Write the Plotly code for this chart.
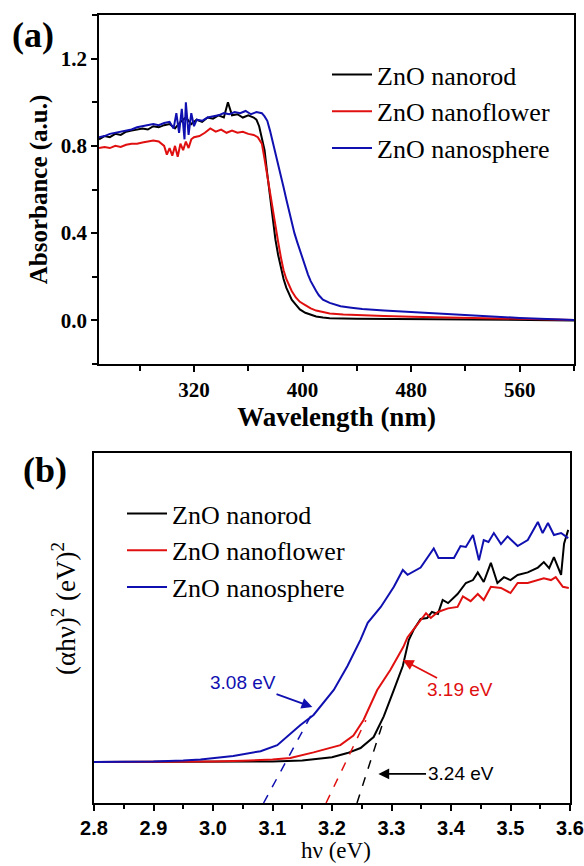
import plotly.graph_objects as go

# ---------------- Panel (a): UV-vis absorbance ----------------
nanorod_wl = [250, 254, 258, 262, 266, 270, 274, 278, 282, 286, 290, 294, 298, 302, 306, 310, 314, 318,
              322, 326, 330, 334, 338, 342, 345, 348, 352, 356, 360, 364, 366, 368, 370, 372, 374, 376,
              378, 380, 382, 384, 386, 388, 390, 392, 395, 398, 402, 406, 410, 415, 420, 440, 460, 480,
              500, 520, 540, 560, 580, 600]
nanorod_abs = [0.83, 0.845, 0.84, 0.855, 0.85, 0.865, 0.87, 0.875, 0.88, 0.875, 0.89, 0.885, 0.895, 0.9,
               0.88, 0.91, 0.93, 0.9, 0.92, 0.91, 0.93, 0.925, 0.94, 0.93, 1.0, 0.94, 0.945, 0.93, 0.94,
               0.93, 0.92, 0.89, 0.84, 0.78, 0.67, 0.56, 0.46, 0.37, 0.30, 0.24, 0.19, 0.15, 0.118, 0.095,
               0.072, 0.05, 0.035, 0.025, 0.018, 0.013, 0.01, 0.008, 0.007, 0.007, 0.006, 0.005, 0.004,
               0.003, 0.002, 0.0]

nanoflower_wl = [250, 254, 258, 262, 266, 270, 274, 278, 282, 286, 290, 294, 298, 300, 302, 304, 306, 308,
                 310, 312, 314, 316, 318, 320, 324, 328, 332, 336, 340, 344, 348, 352, 356, 360, 364, 367,
                 370, 372, 374, 376, 378, 380, 382, 384, 386, 388, 390, 392, 395, 398, 402, 406, 410, 415,
                 420, 430, 440, 460, 480, 500, 520, 540, 560, 580, 600]
nanoflower_abs = [0.79, 0.795, 0.79, 0.80, 0.795, 0.805, 0.81, 0.81, 0.815, 0.82, 0.825, 0.82, 0.80, 0.76,
                  0.79, 0.755, 0.80, 0.75, 0.81, 0.78, 0.82, 0.79, 0.83, 0.84, 0.845, 0.86, 0.88, 0.865,
                  0.875, 0.86, 0.87, 0.86, 0.865, 0.855, 0.85, 0.84, 0.81, 0.74, 0.66, 0.58, 0.51, 0.44,
                  0.36, 0.29, 0.23, 0.19, 0.16, 0.135, 0.105, 0.085, 0.07, 0.055, 0.045, 0.037, 0.032,
                  0.027, 0.024, 0.02, 0.017, 0.014, 0.012, 0.009, 0.006, 0.004, 0.002]

nanosphere_wl = [250, 254, 258, 262, 266, 270, 274, 278, 282, 286, 290, 294, 298, 302, 305, 307, 309, 311,
                 313, 314, 316, 318, 320, 322, 326, 330, 334, 338, 342, 346, 350, 354, 358, 362, 366, 370,
                 372, 374, 376, 378, 380, 382, 384, 386, 388, 390, 392, 394, 396, 398, 400, 402, 404, 406,
                 408, 410, 412, 415, 420, 428, 436, 444, 460, 480, 500, 520, 540, 560, 580, 600]
nanosphere_abs = [0.84, 0.845, 0.855, 0.86, 0.865, 0.87, 0.875, 0.885, 0.89, 0.895, 0.90, 0.895, 0.905,
                  0.91, 0.88, 0.95, 0.86, 0.97, 0.83, 1.0, 0.85, 0.95, 0.89, 0.92, 0.915, 0.93, 0.935,
                  0.94, 0.95, 0.945, 0.955, 0.95, 0.96, 0.945, 0.955, 0.95, 0.935, 0.915, 0.87, 0.82,
                  0.77, 0.72, 0.66, 0.61, 0.555, 0.50, 0.45, 0.40, 0.36, 0.32, 0.28, 0.245, 0.21, 0.18,
                  0.155, 0.135, 0.115, 0.095, 0.08, 0.065, 0.058, 0.052, 0.045, 0.038, 0.03, 0.024,
                  0.017, 0.011, 0.006, 0.002]

# ---------------- Panel (b): Tauc plot ----------------
tauc_nanorod_e = [2.80, 2.90, 3.00, 3.10, 3.15, 3.20, 3.226, 3.248, 3.27, 3.287, 3.304, 3.319, 3.329,
                  3.337, 3.349, 3.36, 3.368, 3.378, 3.386, 3.395, 3.411, 3.425, 3.437, 3.445, 3.455,
                  3.467, 3.478, 3.489, 3.50, 3.512, 3.529, 3.546, 3.556, 3.565, 3.573, 3.585, 3.59, 3.597]
tauc_nanorod_v = [0.0, 0.0, 0.0, 0.002, 0.006, 0.02, 0.037, 0.058, 0.104, 0.19, 0.30, 0.40, 0.508,
                  0.55, 0.596, 0.60, 0.625, 0.617, 0.675, 0.662, 0.70, 0.746, 0.758, 0.79, 0.75,
                  0.83, 0.746, 0.77, 0.758, 0.779, 0.79, 0.81, 0.833, 0.808, 0.854, 0.78, 0.91, 0.967]

tauc_nanoflower_e = [2.80, 2.90, 3.00, 3.05, 3.10, 3.13, 3.169, 3.214, 3.236, 3.253, 3.276, 3.298, 3.32,
                     3.327, 3.349, 3.358, 3.366, 3.378, 3.395, 3.411, 3.42, 3.433, 3.445, 3.455, 3.467,
                     3.484, 3.50, 3.512, 3.529, 3.546, 3.556, 3.568, 3.576, 3.588, 3.598]
tauc_nanoflower_v = [0.0, 0.0, 0.002, 0.005, 0.01, 0.017, 0.04, 0.07, 0.11, 0.175, 0.30, 0.383, 0.48,
                     0.52, 0.59, 0.62, 0.60, 0.625, 0.64, 0.646, 0.69, 0.67, 0.70, 0.675, 0.73,
                     0.725, 0.704, 0.746, 0.746, 0.76, 0.765, 0.758, 0.77, 0.73, 0.725]

tauc_nanosphere_e = [2.80, 2.85, 2.90, 2.95, 2.979, 3.034, 3.08, 3.108, 3.147, 3.169, 3.203, 3.226, 3.248,
                     3.26, 3.282, 3.304, 3.319, 3.327, 3.349, 3.371, 3.379, 3.405, 3.416, 3.425, 3.437,
                     3.447, 3.455, 3.463, 3.472, 3.484, 3.495, 3.512, 3.529, 3.546, 3.554, 3.563, 3.573,
                     3.585, 3.597]
tauc_nanosphere_v = [0.0, 0.0, 0.002, 0.006, 0.01, 0.025, 0.045, 0.07, 0.154, 0.196, 0.30, 0.40, 0.51,
                     0.58, 0.646, 0.73, 0.80, 0.78, 0.81, 0.89, 0.85, 0.85, 0.90, 0.896, 0.946,
                     0.84, 0.925, 0.917, 0.954, 0.908, 0.94, 0.90, 0.925, 1.0, 0.954, 0.996, 0.946,
                     0.954, 0.933]

# tangent (extrapolation) lines: x-intercept at bottom axis and upper end point
tangent_nanorod_e = [3.242, 3.287]
tangent_nanorod_v = [-0.171, 0.175]
tangent_nanoflower_e = [3.19, 3.257]
tangent_nanoflower_v = [-0.171, 0.174]
tangent_nanosphere_e = [3.085, 3.165]
tangent_nanosphere_v = [-0.171, 0.195]

labels = ["ZnO nanorod", "ZnO nanoflower", "ZnO nanosphere"]
gap_labels = ["3.24 eV", "3.19 eV", "3.08 eV"]

BLACK = "#000000"
RED = "#e01010"
BLUE = "#1010b0"
SERIF = "Liberation Serif"
SANS = "Liberation Sans"

fig = go.Figure()

for x, y, name, c in [(nanorod_wl, nanorod_abs, labels[0], BLACK),
                      (nanoflower_wl, nanoflower_abs, labels[1], RED),
                      (nanosphere_wl, nanosphere_abs, labels[2], BLUE)]:
    fig.add_trace(go.Scatter(x=x, y=y, mode="lines", name=name, line=dict(color=c, width=2),
                             xaxis="x", yaxis="y", legend="legend"))

for x, y, name, c in [(tauc_nanorod_e, tauc_nanorod_v, labels[0], BLACK),
                      (tauc_nanoflower_e, tauc_nanoflower_v, labels[1], RED),
                      (tauc_nanosphere_e, tauc_nanosphere_v, labels[2], BLUE)]:
    fig.add_trace(go.Scatter(x=x, y=y, mode="lines", name=name, line=dict(color=c, width=2),
                             xaxis="x2", yaxis="y2", legend="legend2"))

for x, y, c in [(tangent_nanorod_e, tangent_nanorod_v, BLACK),
                (tangent_nanoflower_e, tangent_nanoflower_v, RED),
                (tangent_nanosphere_e, tangent_nanosphere_v, BLUE)]:
    fig.add_trace(go.Scatter(x=x, y=y, mode="lines", showlegend=False,
                             line=dict(color=c, width=1.5, dash="dash"),
                             xaxis="x2", yaxis="y2"))

W, H = 584, 866
axA_dom_x = [99 / W, 574 / W]
axA_dom_y = [1 - 364 / H, 1 - 15 / H]
axB_dom_x = [94 / W, 570 / W]
axB_dom_y = [1 - 803 / H, 1 - 453 / H]

line_style = dict(showline=True, linecolor="black", linewidth=1.5, mirror=True,
                  showgrid=False, zeroline=False)

fig.update_layout(
    width=W, height=H, margin=dict(l=0, r=0, t=0, b=0),
    paper_bgcolor="white", plot_bgcolor="white",
    xaxis=dict(domain=axA_dom_x, anchor="y", range=[250, 600], tick0=0, dtick=80,
               ticks="outside", ticklen=6, tickwidth=1.5, tickcolor="black",
               minor=dict(dtick=40, tick0=0, ticks="outside", ticklen=5, tickwidth=1.5, tickcolor="black"),
               tickfont=dict(family=SERIF, size=21, color="black", weight="bold"),
               title=dict(text="Wavelength (nm)", standoff=5,
                          font=dict(family=SERIF, size=27, color="black", weight="bold")),
               automargin=False, **line_style),
    yaxis=dict(domain=axA_dom_y, anchor="x", range=[-0.2, 1.4], tick0=0, dtick=0.4,
               tickformat=".1f",
               ticks="outside", ticklen=6, tickwidth=1.5, tickcolor="black",
               minor=dict(dtick=0.2, tick0=0, ticks="outside", ticklen=5, tickwidth=1.5, tickcolor="black"),
               tickfont=dict(family=SERIF, size=21, color="black", weight="bold"),
               title=dict(text="Absorbance (a.u.)", standoff=6,
                          font=dict(family=SERIF, size=25, color="black", weight="bold")),
               automargin=False, **line_style),
    xaxis2=dict(domain=axB_dom_x, anchor="y2", range=[2.8, 3.6], tick0=2.8, dtick=0.1,
                tickformat=".1f",
                ticks="outside", ticklen=6, tickwidth=1.5, tickcolor="black",
                minor=dict(dtick=0.05, tick0=2.8, ticks="outside", ticklen=4, tickwidth=1.5, tickcolor="black"),
                tickfont=dict(family=SANS, size=20, color="black", weight="bold"),
                automargin=False, **line_style),
    yaxis2=dict(domain=axB_dom_y, anchor="x2", range=[-0.171, 1.2875],
                showticklabels=False, ticks="",
                automargin=False, **line_style),
    legend=dict(x=327 / W, y=1 - 51 / H, xanchor="left", yanchor="top", itemwidth=40,
                bgcolor="rgba(0,0,0,0)", borderwidth=0, tracegroupgap=0,
                font=dict(family=SERIF, size=26, color="black")),
    legend2=dict(x=122 / W, y=1 - 490 / H, xanchor="left", yanchor="top", itemwidth=40,
                 bgcolor="rgba(0,0,0,0)", borderwidth=0, tracegroupgap=0,
                 font=dict(family=SERIF, size=26, color="black")),
    showlegend=True,
)

annotations = [
    dict(text="(a)", x=33 / W, y=1 - 35 / H, xref="paper", yref="paper", showarrow=False,
         xanchor="center", yanchor="middle",
         font=dict(family=SERIF, size=36, color="black", weight="bold")),
    dict(text="(b)", x=45 / W, y=1 - 470 / H, xref="paper", yref="paper", showarrow=False,
         xanchor="center", yanchor="middle",
         font=dict(family=SERIF, size=36, color="black", weight="bold")),
    dict(text="(αhν)<sup>2</sup> (eV)<sup>2</sup>", x=64 / W, y=1 - 609 / H, xref="paper", yref="paper",
         showarrow=False, textangle=-90, xanchor="center", yanchor="middle",
         font=dict(family=SERIF, size=27, color="black")),
    dict(text="hν (eV)", x=336 / W, y=1 / H, xref="paper", yref="paper",
         showarrow=False, xanchor="center", yanchor="bottom",
         font=dict(family=SERIF, size=23, color="black")),
    dict(text=gap_labels[2], x=3.167, y=0.229, ax=3.051, ay=0.333, xref="x2", yref="y2",
         axref="x2", ayref="y2", showarrow=True, arrowhead=2, arrowsize=1.2, arrowwidth=1.8,
         arrowcolor=BLUE, font=dict(family=SANS, size=19, color=BLUE)),
    dict(text=gap_labels[1], x=3.319, y=0.425, ax=3.415, ay=0.30, xref="x2", yref="y2",
         axref="x2", ayref="y2", showarrow=True, arrowhead=2, arrowsize=1.2, arrowwidth=1.8,
         arrowcolor=RED, font=dict(family=SANS, size=19, color=RED)),
    dict(text=gap_labels[0], x=3.278, y=-0.05, ax=3.416, ay=-0.05, xref="x2", yref="y2",
         axref="x2", ayref="y2", showarrow=True, arrowhead=2, arrowsize=1.2, arrowwidth=1.8,
         arrowcolor=BLACK, font=dict(family=SANS, size=19, color=BLACK)),
]
fig.update_layout(annotations=annotations)

fig.write_html("out.html")
